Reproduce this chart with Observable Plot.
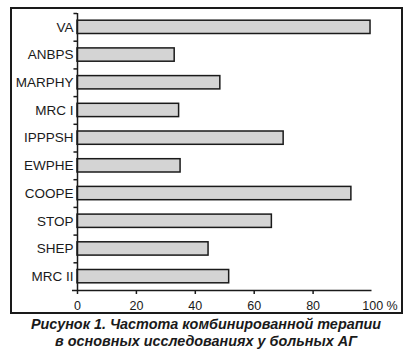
<!DOCTYPE html>
<html>
<head>
<meta charset="utf-8">
<script src="https://cdn.jsdelivr.net/npm/d3@7"></script>
<script src="https://cdn.jsdelivr.net/npm/@observablehq/plot@0.6"></script>
<style>
  body { margin: 0; background: #fff; font-family: "Liberation Sans", Arial, sans-serif; }
  #wrap { position: relative; width: 412px; height: 356px; }
  #box { position: absolute; left: 10px; top: 7px; width: 389px; height: 303px; border: 2px solid #1a1a1a; }
  #chart { position: absolute; left: 0; top: 0; }
  #caption { position: absolute; left: 0; top: 316px; width: 412px; text-align: center;
    font-weight: bold; font-style: italic; font-size: 14.4px; line-height: 17px; color: #1a1a1a; }
</style>
</head>
<body>
<div id="wrap">
  <div id="box"></div>
  <div id="chart"></div>
  <div id="caption">Рисунок 1. Частота комбинированной терапии<br>в основных исследованиях у больных АГ</div>
</div>
<script>
const studies = ["VA", "ANBPS", "MARPHY", "MRC I", "IPPPSH", "EWPHE", "COOPE", "STOP", "SHEP", "MRC II"];
const values = [99.5, 33, 48.5, 34.5, 70, 35, 93, 66, 44.5, 51.5];
const xTicks = [0, 20, 40, 60, 80, 100];

const data = studies.map((s, i) => ({study: s, value: values[i]}));

const W = 412, H = 320, mT = 13, mB = 30, mL = 77, mR = 40.5;
const step = (H - mT - mB) / studies.length;

const plot = Plot.plot({
  width: W,
  height: H,
  marginTop: mT,
  marginBottom: mB,
  marginLeft: mL,
  marginRight: mR,
  style: {fontFamily: "'Liberation Sans', Arial, sans-serif", fontSize: "12px", color: "#1a1a1a", background: "transparent"},
  x: {domain: [0, 100]},
  y: {domain: studies, paddingInner: 0.52, paddingOuter: 0.26, round: false},
  marks: [
    Plot.barX(data, {x: "value", y: "study", fill: "#d4d4d4", stroke: "#1a1a1a", strokeWidth: 1.5}),
    Plot.ruleX([0], {stroke: "#1a1a1a", strokeWidth: 1.5}),
    Plot.ruleY(studies, {y: d => d, x1: -1.2, x2: 0, dy: -step / 2, stroke: "#1a1a1a", strokeWidth: 1.5}),
    Plot.ruleY([studies[studies.length - 1]], {y: d => d, x1: -1.7, x2: 100, dy: step / 2, stroke: "#1a1a1a", strokeWidth: 1.5}),
    Plot.axisY({tickSize: 0, tickPadding: 4, label: null, fontSize: 13.5}),
    Plot.axisX({ticks: xTicks.slice(0, -1), tickSize: 4, tickPadding: 7, label: null, fontSize: 12.5, strokeWidth: 1.5}),
    Plot.axisX({ticks: [100], tickSize: 0, tickPadding: 11, label: null, fontSize: 12.5, dx: 8, tickFormat: d => d + " %"})
  ]
});
document.getElementById("chart").appendChild(plot);
</script>
</body>
</html>
